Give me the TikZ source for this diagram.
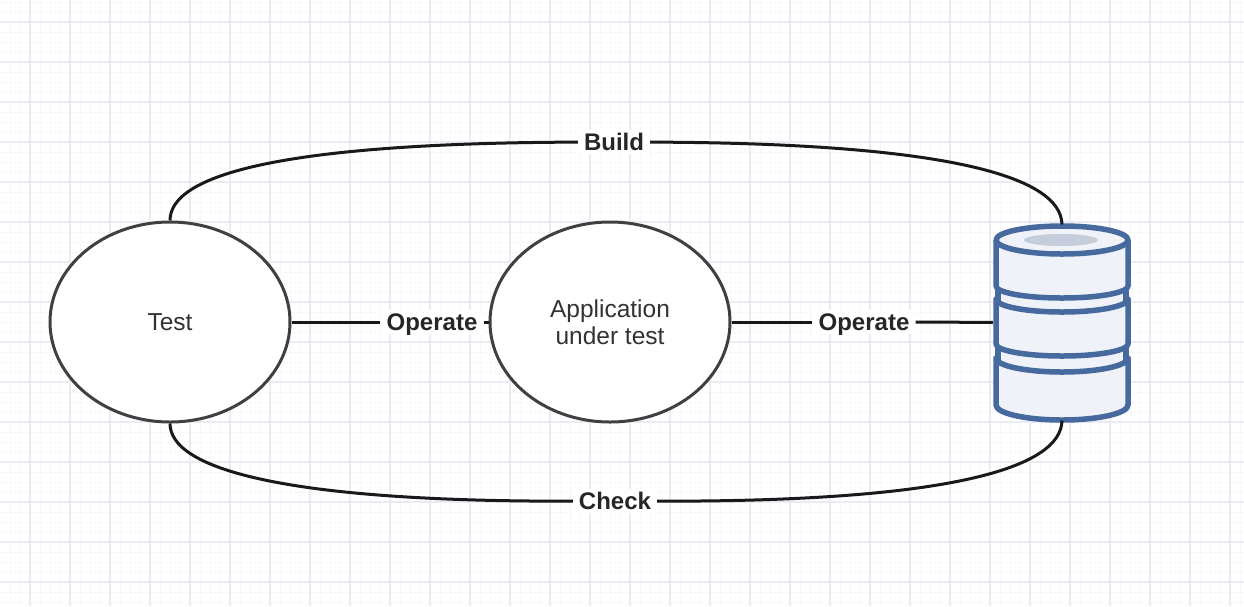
\documentclass[tikz,border=0pt]{standalone}
\usepackage{xcolor}
\usepackage{fontspec}
\setmainfont{Liberation Sans}
\usetikzlibrary{shapes.geometric, positioning}

\definecolor{majorgrid}{HTML}{EBEBF4}
\definecolor{minorgrid}{HTML}{F8F8FB}
\definecolor{dbblue}{HTML}{46699E}
\definecolor{dbfill}{HTML}{EFF2F8}
\definecolor{dbtop}{HTML}{C6CDDA}

\tikzset{
    bubble/.style={ellipse, draw=black!75, line width=3pt, fill=white, minimum width=240pt, minimum height=200pt, inner sep=0pt, align=center, font=\fontsize{24.5}{27}\selectfont, text=black!80},
    linklabel/.style={fill=white, inner xsep=6pt, inner ysep=2pt, text height=18pt, text depth=2pt, font=\fontsize{24}{27}\selectfont\bfseries, text=black!85},
    link/.style={line width=3pt, black!90},
    dbline/.style={draw=dbblue, line width=5.5pt, fill=dbfill, line join=round}
}

\begin{document}
\begin{tikzpicture}[x=1pt, y=-1pt]
    \useasboundingbox (0,0) rectangle (1244,606);
    % background grid
    \foreach \x in {10,20,...,1240}
        \draw[minorgrid, line width=1pt] (\x,0) -- (\x,606);
    \foreach \y in {2,12,...,602}
        \draw[minorgrid, line width=1pt] (0,\y) -- (1244,\y);
    \foreach \x in {30,70,...,1230}
        \draw[majorgrid, line width=1.2pt] (\x,0) -- (\x,606);
    \foreach \y in {22,62,...,582}
        \draw[majorgrid, line width=1.2pt] (0,\y) -- (1244,\y);

    \node[bubble] (test) at (170,322) {Test};
    \node[bubble] (app) at (610,322) {Application\\under test};
    \node[minimum width=138pt, minimum height=196pt, inner sep=0pt, outer sep=0pt] (db) at (1062,322.5) {};

    % database, bottom disc first
    \draw[dbline] (998,240) rectangle (1126,400);
    \draw[dbline] (996,358) -- (996,405) arc[start angle=180, end angle=0, x radius=66, y radius=15] -- (1128,358)
        arc[start angle=0, end angle=180, x radius=66, y radius=14] -- cycle;
    \draw[dbline] (996,299) -- (996,344) arc[start angle=180, end angle=0, x radius=66, y radius=12] -- (1128,299)
        arc[start angle=0, end angle=180, x radius=66, y radius=13] -- cycle;
    \draw[dbline] (996,240) -- (996,286) arc[start angle=180, end angle=0, x radius=66, y radius=12] -- (1128,240);
    \draw[dbline] (1062,240) ellipse[x radius=66, y radius=14];
    \fill[dbtop] (1061,240) ellipse[x radius=37, y radius=6];

    \node[linklabel] (build) at (614,142) {Build};
    \node[linklabel] (check) at (615,501) {Check};
    \node[linklabel] (opleft) at (432,322) {Operate};
    \node[linklabel] (opright) at (864,322) {Operate};

    \draw[link] (test) -- (opleft);
    \draw[link] (opleft) -- (app);
    \draw[link] (app) -- (opright);
    \draw[link] (opright) -- (db);
    \draw[link] (test.north) .. controls (170,175) and (280,143) .. (build);
    \draw[link] (build) .. controls (950,143) and (1061,177) .. (db.north);
    \draw[link] (test.south) .. controls (170,468) and (280,502) .. (check);
    \draw[link] (check) .. controls (950,502) and (1061,468) .. (db.south);
\end{tikzpicture}
\end{document}
